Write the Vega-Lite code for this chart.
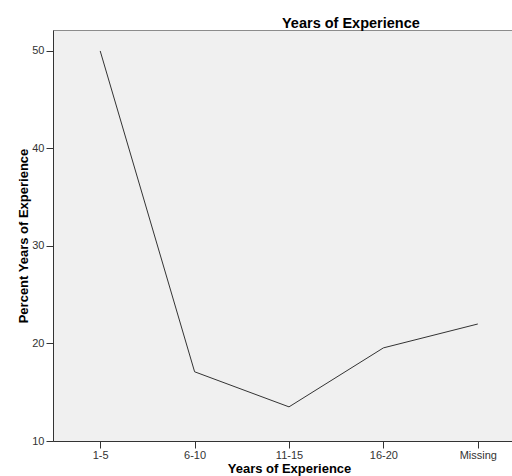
{
  "$schema": "https://vega.github.io/schema/vega-lite/v6.json",
  "autosize": "none",
  "padding": {"left": 53, "top": 30, "right": 0, "bottom": 35},
  "width": 472,
  "height": 411,
  "background": "white",
  "title": {
    "text": "Years of Experience",
    "anchor": "start",
    "frame": "group",
    "dx": 229,
    "dy": 18,
    "offset": 6,
    "baseline": "alphabetic",
    "font": "Liberation Sans",
    "fontSize": 14.5,
    "fontWeight": "bold",
    "color": "#000000"
  },
  "config": {
    "view": {"fill": "#f0f0f0", "stroke": "#8c8c8c", "strokeWidth": 1},
    "axis": {
      "labelFont": "Liberation Sans",
      "labelFontSize": 11,
      "labelColor": "#333333",
      "titleFont": "Liberation Sans",
      "titleFontWeight": "bold",
      "titleColor": "#000000",
      "domainColor": "#333333",
      "tickColor": "#333333",
      "tickSize": 7,
      "grid": false
    }
  },
  "data": {
    "values": [
      {"years": "1-5", "percent": 50.0},
      {"years": "6-10", "percent": 17.1},
      {"years": "11-15", "percent": 13.5},
      {"years": "16-20", "percent": 19.55},
      {"years": "Missing", "percent": 22.0}
    ]
  },
  "mark": {"type": "line", "color": "#333333", "strokeWidth": 1},
  "encoding": {
    "x": {
      "field": "years",
      "type": "ordinal",
      "sort": ["1-5", "6-10", "11-15", "16-20", "Missing"],
      "scale": {"type": "point", "padding": 0.5},
      "axis": {
        "title": "Years of Experience",
        "labelAngle": 0,
        "labelPadding": 1,
        "titleFontSize": 13,
        "titlePadding": 2
      }
    },
    "y": {
      "field": "percent",
      "type": "quantitative",
      "scale": {"domain": [10, 52.15], "nice": false, "zero": false},
      "axis": {
        "title": "Percent Years of Experience",
        "values": [10, 20, 30, 40, 50],
        "labelPadding": 2,
        "titleFontSize": 13,
        "titlePadding": 1
      }
    }
  }
}
